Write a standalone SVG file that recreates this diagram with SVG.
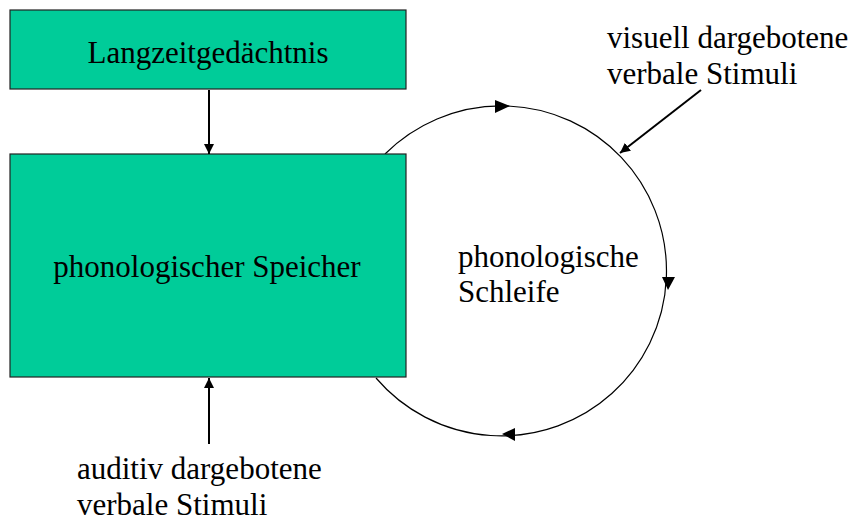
<svg xmlns="http://www.w3.org/2000/svg" width="856" height="522" viewBox="0 0 856 522">
<style>
.box{fill:#00CC99;stroke:#222;stroke-width:1.2}
.t{font-family:"Liberation Serif","Times New Roman",serif;font-size:31px;fill:#000}
.ln{stroke:#000;stroke-width:2;fill:none}
.loop{stroke:#000;stroke-width:1.2;fill:none}
.ah{fill:#000}
</style>
<defs>
<marker id="arr" viewBox="0 0 10 10" refX="10" refY="5" markerWidth="5" markerHeight="5" orient="auto" markerUnits="strokeWidth">
<path d="M0,0 L10,5 L0,10 z" fill="#000"/>
</marker>
</defs>
<rect width="856" height="522" fill="#fff"/>
<g id="loop">
<path class="loop" d="M385,154 A165,165 0 1 1 376,378"/>
<polygon class="ah" points="510,106 495,100 495,113"/>
<polygon class="ah" points="668,290 662,277 675,277"/>
<polygon class="ah" points="502,434 515,428 515,441"/>
<text class="t" x="458" y="267">phonologische</text>
<text class="t" x="458" y="302">Schleife</text>
</g>
<g id="langzeit">
<rect class="box" x="10" y="10" width="396" height="79"/>
<text class="t" x="208" y="63" text-anchor="middle">Langzeitgedächtnis</text>
</g>
<g id="speicher">
<rect class="box" x="10" y="154" width="396" height="223"/>
<text class="t" x="207" y="277" text-anchor="middle">phonologischer Speicher</text>
</g>
<g id="visuell">
<text class="t" x="607" y="48">visuell dargebotene</text>
<text class="t" x="607" y="84">verbale Stimuli</text>
</g>
<g id="auditiv">
<text class="t" x="77" y="479">auditiv dargebotene</text>
<text class="t" x="77" y="515">verbale Stimuli</text>
</g>
<g id="connectors">
<line class="ln" x1="209" y1="90" x2="209" y2="154" marker-end="url(#arr)"/>
<line class="ln" x1="209" y1="444" x2="209" y2="378" marker-end="url(#arr)"/>
<line class="ln" x1="701" y1="90" x2="620" y2="153" marker-end="url(#arr)"/>
</g>
</svg>
